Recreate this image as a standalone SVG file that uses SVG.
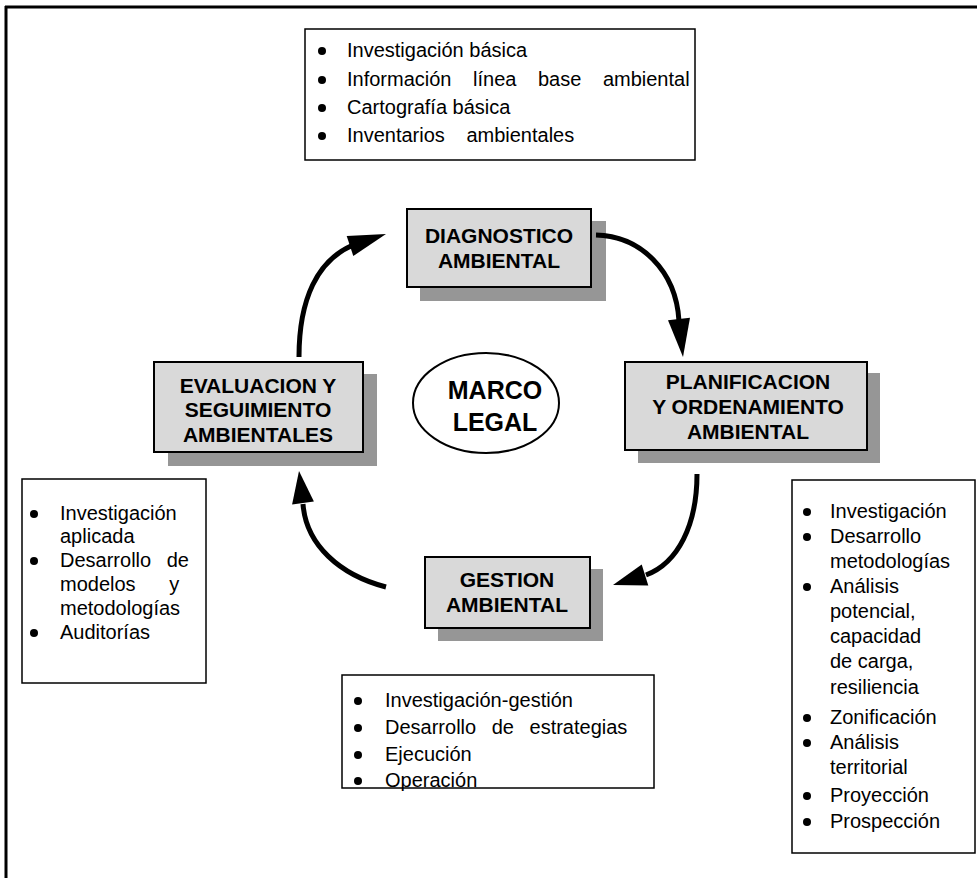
<svg xmlns="http://www.w3.org/2000/svg" width="977" height="878" viewBox="0 0 977 878">
  <style>
    .frame { fill: none; stroke: #000; stroke-width: 3; }
    .list { fill: #fff; stroke: #000; stroke-width: 1.5; }
    .box { fill: #d9d9d9; stroke: #000; stroke-width: 2; }
    .shadow { fill: #969696; }
    .item { font-family: "Liberation Sans", Arial, sans-serif; font-size: 20px; fill: #000; }
    .wide { word-spacing: 10px; }
    .wider { word-spacing: 16px; }
    .widest { word-spacing: 28px; }
    .title { font-family: "Liberation Sans", Arial, sans-serif; font-size: 21px; font-weight: bold; fill: #000; text-anchor: middle; }
    .legal { font-family: "Liberation Sans", Arial, sans-serif; font-size: 25px; font-weight: bold; fill: #000; text-anchor: middle; }
    .arc { fill: none; stroke: #000; stroke-width: 5; }
    .head { fill: #000; }
  </style>

  <!-- outer frame: top and left edges -->
  <path class="frame" d="M5,7 H977 M6,6 V878"/>

  <!-- top list -->
  <g id="list-diagnostico">
    <rect class="list" x="305" y="29" width="390" height="131"/>
    <g class="item">
      <circle cx="322" cy="51" r="4"/><text x="347" y="57">Investigación básica</text>
      <circle cx="322" cy="80" r="4"/><text class="wider" x="347" y="86">Información línea base ambiental</text>
      <circle cx="322" cy="108" r="4"/><text x="347" y="114">Cartografía básica</text>
      <circle cx="322" cy="136" r="4"/><text class="wider" x="347" y="142">Inventarios ambientales</text>
    </g>
  </g>

  <!-- left list -->
  <g id="list-evaluacion">
    <rect class="list" x="22" y="479" width="184" height="204"/>
    <g class="item">
      <circle cx="34" cy="514" r="4"/><text x="60" y="520">Investigación</text>
      <text x="60" y="543">aplicada</text>
      <circle cx="34" cy="561" r="4"/><text class="wide" x="60" y="567">Desarrollo de</text>
      <text class="widest" x="60" y="591">modelos y</text>
      <text x="60" y="615">metodologías</text>
      <circle cx="34" cy="633" r="4"/><text x="60" y="639">Auditorías</text>
    </g>
  </g>

  <!-- bottom list -->
  <g id="list-gestion">
    <rect class="list" x="342" y="675" width="312" height="113"/>
    <g class="item">
      <circle cx="358" cy="701" r="4"/><text x="385" y="707">Investigación-gestión</text>
      <circle cx="358" cy="728" r="4"/><text class="wide" x="385" y="734">Desarrollo de estrategias</text>
      <circle cx="358" cy="755" r="4"/><text x="385" y="761">Ejecución</text>
      <circle cx="358" cy="781" r="4"/><text x="385" y="787">Operación</text>
    </g>
  </g>

  <!-- right list -->
  <g id="list-planificacion">
    <rect class="list" x="792" y="480" width="183" height="373"/>
    <g class="item">
      <circle cx="807" cy="512" r="4"/><text x="830" y="518">Investigación</text>
      <circle cx="807" cy="537" r="4"/><text x="830" y="543">Desarrollo</text>
      <text x="830" y="568">metodologías</text>
      <circle cx="807" cy="587" r="4"/><text x="830" y="593">Análisis</text>
      <text x="830" y="618">potencial,</text>
      <text x="830" y="643">capacidad</text>
      <text x="830" y="668">de carga,</text>
      <text x="830" y="694">resiliencia</text>
      <circle cx="807" cy="718" r="4"/><text x="830" y="724">Zonificación</text>
      <circle cx="807" cy="743" r="4"/><text x="830" y="749">Análisis</text>
      <text x="830" y="774">territorial</text>
      <circle cx="807" cy="796" r="4"/><text x="830" y="802">Proyección</text>
      <circle cx="807" cy="822" r="4"/><text x="830" y="828">Prospección</text>
    </g>
  </g>

  <!-- stage boxes with drop shadows -->
  <g id="diagnostico">
    <rect class="shadow" x="420" y="221" width="186" height="80"/>
    <rect class="box" x="407" y="209" width="184" height="78"/>
    <text class="title" x="499" y="243">DIAGNOSTICO</text>
    <text class="title" x="499" y="268">AMBIENTAL</text>
  </g>

  <g id="planificacion">
    <rect class="shadow" x="638" y="373" width="242" height="90"/>
    <rect class="box" x="625" y="362" width="242" height="88"/>
    <text class="title" x="748" y="389">PLANIFICACION</text>
    <text class="title" x="748" y="414">Y ORDENAMIENTO</text>
    <text class="title" x="748" y="439">AMBIENTAL</text>
  </g>

  <g id="gestion">
    <rect class="shadow" x="438" y="569" width="165" height="72"/>
    <rect class="box" x="425" y="557" width="165" height="71"/>
    <text class="title" x="507" y="587">GESTION</text>
    <text class="title" x="507" y="612">AMBIENTAL</text>
  </g>

  <g id="evaluacion">
    <rect class="shadow" x="168" y="374" width="209" height="92"/>
    <rect class="box" x="154" y="362" width="209" height="90"/>
    <text class="title" x="258" y="393">EVALUACION Y</text>
    <text class="title" x="258" y="417">SEGUIMIENTO</text>
    <text class="title" x="258" y="442">AMBIENTALES</text>
  </g>

  <g id="marco-legal">
    <ellipse cx="486" cy="403" rx="73" ry="50" fill="#fff" stroke="#000" stroke-width="2"/>
    <text class="legal" x="495" y="399">MARCO</text>
    <text class="legal" x="495" y="431">LEGAL</text>
  </g>

  <!-- cycle connectors -->
  <g id="connectors">
    <path class="arc" d="M299,357 C299,298 318,261 351,246"/>
    <polygon class="head" points="386,234 346.7,236 353.3,256"/>

    <path class="arc" d="M596,235 C640,236 676,270 679,321"/>
    <polygon class="head" points="683,357 668,320.2 690,317.8"/>

    <path class="arc" d="M697,474 C697,525 678,563 646,575"/>
    <polygon class="head" points="613,585 648.3,585.5 641.7,564.5"/>

    <path class="arc" d="M386,587 C340,575 306,545 303,504"/>
    <polygon class="head" points="299,471 313.9,501.6 292.1,504.4"/>
  </g>
</svg>
